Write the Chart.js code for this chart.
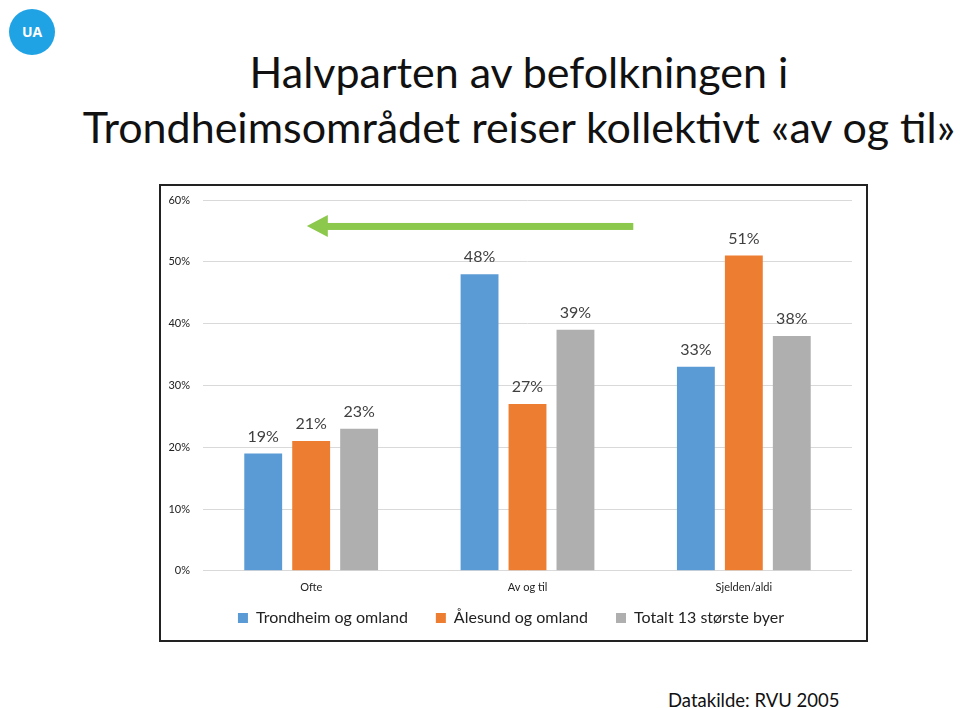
<!DOCTYPE html>
<html>
<head>
<meta charset="utf-8">
<script src="https://cdn.jsdelivr.net/npm/chart.js@4"></script>
<style>
body{margin:0;background:#fff;width:960px;height:708px;overflow:hidden;position:relative;font-family:Lato,"Open Sans",sans-serif}
#logo{position:absolute;left:9px;top:9px;width:46px;height:46px;border-radius:50%;background:#1fa3e4;color:#fff;font:bold 14px "Open Sans",sans-serif;line-height:46px;text-align:center}
.title{position:absolute;left:0;width:1038px;text-align:center;font-size:43px;line-height:52px;color:#111;white-space:nowrap}
#box{position:absolute;left:159px;top:184px;width:709px;height:458px;border:2px solid #222;box-sizing:border-box}
#src{position:absolute;left:668px;top:689px;font-size:18.5px;color:#111}
</style>
</head>
<body>
<div id="logo">UA</div>
<div class="title" style="top:46px">Halvparten av befolkningen i</div>
<div class="title" style="top:101px">Trondheimsområdet reiser kollektivt «av og til»</div>
<div id="box"><canvas id="chart" width="705" height="454"></canvas></div>
<div id="src">Datakilde: RVU 2005</div>
<script>

const categories = ["Ofte","Av og til","Sjelden/aldi"]
const seriesNames = ["Trondheim og omland","Ålesund og omland","Totalt 13 største byer"]
const trondheim = [19,48,33]
const alesund = [21,27,51]
const totalt = [23,39,38]
const yTicks = [0,10,20,30,40,50,60]

const colors = ["#5b9bd5","#ed7d31","#afafaf"]

/* labels above the bars */
const barLabels = {
id:"barLabels",
afterDatasetsDraw(chart){
const ctx = chart.ctx
ctx.save()
ctx.font = "16px Lato, 'Open Sans', sans-serif"
ctx.fillStyle = "#404040"
ctx.textAlign = "center"
ctx.textBaseline = "middle"
chart.data.datasets.forEach((ds,i)=>{
chart.getDatasetMeta(i).data.forEach((bar,j)=>{
ctx.fillText(ds.data[j]+"%", bar.x, bar.y-17)
})
})
ctx.restore()
}
}

/* green arrow pointing left */
const arrow = {
id:"arrow",
afterDraw(chart){
const ctx = chart.ctx
const a = chart.chartArea
const y = chart.scales.y.getPixelForValue(55.8)
const tip = a.left + a.width*0.16
const tail = a.left + a.width*0.663
ctx.save()
ctx.fillStyle = "#8cc84b"
ctx.fillRect(tip+20, y-3, tail-tip-20, 7)
ctx.beginPath()
ctx.moveTo(tip, y)
ctx.lineTo(tip+21, y-11)
ctx.lineTo(tip+21, y+11)
ctx.closePath()
ctx.fill()
ctx.restore()
}
}

// wide gaps between legend items but a short legend box
const legendFix = {
id:"legendFix",
afterInit(chart){
const lg = chart.legend
const fit = lg.fit
lg.fit = function(){ fit.call(this); this.height = 36 }
},
afterLayout(chart){
chart.legend.top -= 22
chart.legend.left += 9
}
}

new Chart(document.getElementById("chart"),{
type:"bar",
data:{
labels:categories,
datasets:[
{label:seriesNames[0],data:trondheim,backgroundColor:colors[0]},
{label:seriesNames[1],data:alesund,backgroundColor:colors[1]},
{label:seriesNames[2],data:totalt,backgroundColor:colors[2]}
]
},
options:{
responsive:false,
animation:false,
categoryPercentage:0.665,
barPercentage:0.79,
layout:{padding:{top:14,right:14,left:0,bottom:0}},
plugins:{
legend:{
position:"bottom",
labels:{boxWidth:10,boxHeight:10,color:"#222",font:{size:16,family:"Lato, 'Open Sans', sans-serif"},padding:28}
},
tooltip:{enabled:false}
},
scales:{
x:{
grid:{display:false,drawTicks:false},
border:{display:false},
ticks:{color:"#222",font:{size:11,family:"Lato, 'Open Sans', sans-serif"},padding:10}
},
y:{
min:0,max:60,
afterFit(s){s.width=42;s.paddingTop=0;s.paddingBottom=0},
afterBuildTicks(s){s.ticks=yTicks.map(v=>({value:v}))},
grid:{color:"#d9d9d9",drawTicks:false},
border:{display:false},
ticks:{color:"#222",font:{size:11,family:"Lato, 'Open Sans', sans-serif"},padding:13,callback:v=>v+"%"}
}
}
},
plugins:[barLabels,arrow,legendFix]
})

</script>
</body>
</html>
